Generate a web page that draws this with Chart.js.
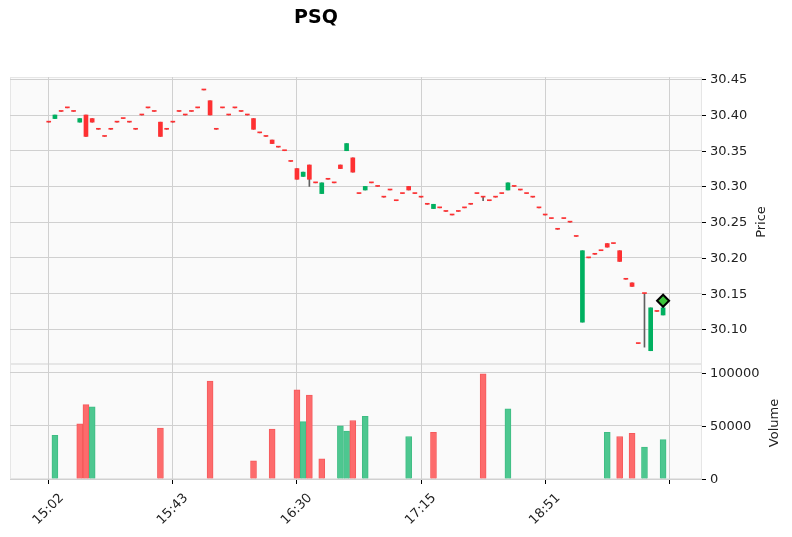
<!DOCTYPE html>
<html>
<head>
<meta charset="utf-8">
<script src="https://cdn.jsdelivr.net/npm/chart.js@4"></script>
<style>
  html, body { margin: 0; padding: 0; background: #fff; }
</style>
</head>
<body>
<canvas id="chart" width="792" height="537"></canvas>
<script>
// tick positions (bar index) and their time labels
const tickIndex = [0, 20, 40, 60, 80, 100];
const tickLabels = ["15:02", "15:43", "16:30", "17:15", "18:51", ""];
const priceTicks = [30.10, 30.15, 30.20, 30.25, 30.30, 30.35, 30.40, 30.45];
const volumeTicks = [0, 50000, 100000];

// OHLC per bar
const opens = [
  30.39, 30.395, 30.405, 30.41, 30.405, 30.39, 30.40, 30.395, 30.38, 30.37,
  30.38, 30.39, 30.395, 30.39, 30.38, 30.40, 30.41, 30.405, 30.39, 30.38,
  30.39, 30.405, 30.40, 30.405, 30.41, 30.435, 30.42, 30.38, 30.41, 30.40,
  30.41, 30.405, 30.40, 30.395, 30.375, 30.37, 30.365, 30.355, 30.35, 30.335,
  30.325, 30.314, 30.33, 30.305, 30.29, 30.31, 30.305, 30.33, 30.35, 30.34,
  30.29, 30.295, 30.305, 30.30, 30.285, 30.295, 30.28, 30.29, 30.30, 30.29,
  30.285, 30.275, 30.269, 30.27, 30.265, 30.26, 30.265, 30.27, 30.275, 30.29,
  30.285, 30.28, 30.285, 30.29, 30.295, 30.30, 30.295, 30.29, 30.285, 30.27,
  30.26, 30.255, 30.24, 30.255, 30.25, 30.23, 30.11, 30.20, 30.205, 30.21,
  30.22, 30.22, 30.21, 30.17, 30.165, 30.08, 30.15, 30.07, 30.125, 30.12
];
const highs = [
  30.39, 30.40, 30.405, 30.41, 30.405, 30.395, 30.40, 30.395, 30.38, 30.37,
  30.38, 30.39, 30.395, 30.39, 30.38, 30.40, 30.41, 30.405, 30.39, 30.38,
  30.39, 30.405, 30.40, 30.405, 30.41, 30.435, 30.42, 30.38, 30.41, 30.40,
  30.41, 30.405, 30.40, 30.395, 30.375, 30.37, 30.365, 30.355, 30.35, 30.335,
  30.325, 30.32, 30.33, 30.305, 30.305, 30.31, 30.305, 30.33, 30.36, 30.34,
  30.29, 30.30, 30.305, 30.30, 30.285, 30.295, 30.28, 30.29, 30.30, 30.29,
  30.285, 30.275, 30.275, 30.27, 30.265, 30.26, 30.265, 30.27, 30.275, 30.29,
  30.285, 30.28, 30.285, 30.29, 30.305, 30.30, 30.295, 30.29, 30.285, 30.27,
  30.26, 30.255, 30.24, 30.255, 30.25, 30.23, 30.21, 30.20, 30.205, 30.21,
  30.22, 30.22, 30.21, 30.17, 30.165, 30.08, 30.15, 30.13, 30.125, 30.13
];
const lows = [
  30.39, 30.395, 30.405, 30.41, 30.405, 30.39, 30.37, 30.39, 30.38, 30.37,
  30.38, 30.39, 30.395, 30.39, 30.38, 30.40, 30.41, 30.405, 30.37, 30.38,
  30.39, 30.405, 30.40, 30.405, 30.41, 30.435, 30.40, 30.38, 30.41, 30.40,
  30.41, 30.405, 30.40, 30.38, 30.375, 30.37, 30.36, 30.355, 30.35, 30.335,
  30.31, 30.314, 30.30, 30.305, 30.29, 30.31, 30.305, 30.325, 30.35, 30.32,
  30.29, 30.295, 30.305, 30.30, 30.285, 30.295, 30.28, 30.29, 30.295, 30.29,
  30.285, 30.275, 30.269, 30.27, 30.265, 30.26, 30.265, 30.27, 30.275, 30.29,
  30.28, 30.28, 30.285, 30.29, 30.295, 30.30, 30.295, 30.29, 30.285, 30.27,
  30.26, 30.255, 30.24, 30.255, 30.25, 30.23, 30.11, 30.20, 30.205, 30.21,
  30.215, 30.22, 30.195, 30.17, 30.16, 30.08, 30.075, 30.07, 30.125, 30.12
];
const closes = [
  30.39, 30.40, 30.405, 30.41, 30.405, 30.395, 30.37, 30.39, 30.38, 30.37,
  30.38, 30.39, 30.395, 30.39, 30.38, 30.40, 30.41, 30.405, 30.37, 30.38,
  30.39, 30.405, 30.40, 30.405, 30.41, 30.435, 30.40, 30.38, 30.41, 30.40,
  30.41, 30.405, 30.40, 30.38, 30.375, 30.37, 30.36, 30.355, 30.35, 30.335,
  30.31, 30.32, 30.31, 30.305, 30.305, 30.31, 30.305, 30.325, 30.36, 30.32,
  30.29, 30.30, 30.305, 30.30, 30.285, 30.295, 30.28, 30.29, 30.295, 30.29,
  30.285, 30.275, 30.275, 30.27, 30.265, 30.26, 30.265, 30.27, 30.275, 30.29,
  30.285, 30.28, 30.285, 30.29, 30.305, 30.30, 30.295, 30.29, 30.285, 30.27,
  30.26, 30.255, 30.24, 30.255, 30.25, 30.23, 30.21, 30.20, 30.205, 30.21,
  30.215, 30.22, 30.195, 30.17, 30.16, 30.08, 30.15, 30.13, 30.125, 30.13
];
const volumes = [
  0, 41000, 0, 0, 0, 52000, 70000, 68000, 0, 0,
  0, 0, 0, 0, 0, 0, 0, 0, 48000, 0,
  0, 0, 0, 0, 0, 0, 92000, 0, 0, 0,
  0, 0, 0, 17000, 0, 0, 47000, 0, 0, 0,
  84000, 54000, 79000, 0, 19000, 0, 0, 50000, 45000, 55000,
  0, 59000, 0, 0, 0, 0, 0, 0, 40000, 0,
  0, 0, 44000, 0, 0, 0, 0, 0, 0, 0,
  99000, 0, 0, 0, 66000, 0, 0, 0, 0, 0,
  0, 0, 0, 0, 0, 0, 0, 0, 0, 0,
  44000, 0, 40000, 0, 43000, 0, 30000, 0, 0, 37000
];
// marker on the last bar
const markerIndex = 99;
const markerPrice = 30.14;

const UP = "#00b060", DOWN = "#fe3032", WICK = "#606060";
const VOL_UP = "#4dc790", VOL_DOWN = "#fd6b6c";
const GRID = "#d0d0d0";
const FONT = "'DejaVu Sans', sans-serif";

const bodies = opens.map((o, i) => ({ x: i, y: [o, closes[i]] }));
const wicks = lows.map((l, i) => ({ x: i, y: [l, highs[i]] }));
const bodyColors = opens.map((o, i) => closes[i] > o ? UP : DOWN);
const vols = volumes.map((v, i) => ({ x: i, y: v > 0 ? v : null }));
const volColors = closes.map((c, i) => c > (i > 0 ? closes[i - 1] : opens[0]) ? VOL_UP : VOL_DOWN);
const volBorders = volColors.map(c => c === VOL_UP ? "#3fbd84" : "#f55a5c");

// background, panel frames, title, axis labels
const decor = {
  id: "decor",
  beforeDraw(chart) {
    const { ctx, chartArea } = chart;
    const yp = chart.scales.yPrice, yv = chart.scales.yVol;
    const w = chartArea.right - chartArea.left;
    ctx.save();
    ctx.fillStyle = "#fafafa";
    ctx.fillRect(chartArea.left, yp.top, w, yp.bottom - yp.top);
    ctx.fillRect(chartArea.left, yv.top, w, yv.bottom - yv.top);
    ctx.strokeStyle = "#e6e6e6";
    ctx.lineWidth = 1;
    ctx.strokeRect(chartArea.left + 0.5, yp.top + 0.5, w - 1, yp.bottom - yp.top - 1);
    ctx.strokeRect(chartArea.left + 0.5, yv.top + 0.5, w - 1, yv.bottom - yv.top - 1);
    ctx.restore();
  },
  afterDraw(chart) {
    const { ctx, chartArea } = chart;
    const xs = chart.scales.x, yp = chart.scales.yPrice, yv = chart.scales.yVol;
    const r = chartArea.right;
    ctx.save();
    ctx.fillStyle = "#000";
    ctx.font = "bold 19px " + FONT;
    ctx.textAlign = "center";
    ctx.textBaseline = "middle";
    ctx.fillText("PSQ", 316, 18);

    // y tick marks and labels
    ctx.strokeStyle = "#000";
    ctx.lineWidth = 1;
    ctx.fillStyle = "#222";
    ctx.font = "13px " + FONT;
    ctx.textAlign = "left";
    const yLabels = [[yp, priceTicks, v => v.toFixed(2)], [yv, volumeTicks, v => String(v)]];
    yLabels.forEach(([sc, ticks, fmt]) => {
      ticks.forEach(v => {
        const py = Math.round(sc.getPixelForValue(v)) + 0.5;
        ctx.beginPath();
        ctx.moveTo(r, py);
        ctx.lineTo(r + 4, py);
        ctx.stroke();
        ctx.fillText(fmt(v), r + 8, py);
      });
    });

    ctx.textAlign = "center";
    [["Price", 762, 222], ["Volume", 775, 423]].forEach(([t, x, y]) => {
      ctx.save();
      ctx.translate(x, y);
      ctx.rotate(-Math.PI / 2);
      ctx.fillText(t, 0, 0);
      ctx.restore();
    });

    // x tick labels, rotated
    ctx.textAlign = "right";
    tickIndex.forEach((v, k) => {
      if (!tickLabels[k]) return;
      const px = xs.getPixelForValue(v);
      ctx.save();
      ctx.translate(px + 13, 496);
      ctx.rotate(-Math.PI / 4);
      ctx.fillText(tickLabels[k], 0, 0);
      ctx.restore();
    });
    ctx.restore();
  }
};

new Chart(document.getElementById("chart"), {
  type: "bar",
  data: {
    datasets: [
      {
        type: "scatter",
        data: [{ x: markerIndex, y: markerPrice }],
        yAxisID: "yPrice",
        pointStyle: "rectRot",
        pointRadius: 6,
        backgroundColor: "#3cc43c",
        borderColor: "#000",
        borderWidth: 2,
        order: 0
      },
      {
        data: bodies,
        yAxisID: "yPrice",
        backgroundColor: bodyColors,
        borderWidth: 0,
        barThickness: 4,
        minBarLength: 1,
        grouped: false,
        order: 1
      },
      {
        data: wicks,
        yAxisID: "yPrice",
        backgroundColor: WICK,
        borderWidth: 0,
        barThickness: 1,
        grouped: false,
        order: 2
      },
      {
        data: vols,
        yAxisID: "yVol",
        backgroundColor: volColors,
        borderColor: volBorders,
        borderWidth: 1,
        barThickness: 6,
        grouped: false,
        order: 3
      }
    ]
  },
  options: {
    responsive: false,
    animation: false,
    layout: { padding: { left: 10, top: 77, right: 0, bottom: 0 } },
    plugins: { legend: { display: false }, tooltip: { enabled: false }, title: { display: false } },
    scales: {
      x: {
        type: "linear",
        min: -6.24,
        max: 105.27,
        offset: false,
        border: { display: false },
        grid: { color: GRID, offset: false, tickColor: "#000", tickLength: 5, drawTicks: true },
        ticks: { display: false },
        afterBuildTicks(scale) { scale.ticks = tickIndex.map(v => ({ value: v })); },
        afterFit(scale) { scale.height = 58; }
      },
      yPrice: {
        type: "linear",
        position: "right",
        stack: "panels",
        stackWeight: 287,
        min: 30.0514,
        max: 30.4532,
        border: { display: false },
        grid: { color: GRID, drawTicks: false },
        ticks: { display: false },
        afterBuildTicks(scale) { scale.ticks = priceTicks.map(v => ({ value: v })); },
        afterFit(scale) { scale.width = 90; }
      },
      yVol: {
        type: "linear",
        position: "right",
        stack: "panels",
        stackWeight: 115,
        min: 0,
        max: 108185,
        border: { display: false },
        grid: { color: GRID, drawTicks: false },
        ticks: { display: false },
        afterBuildTicks(scale) { scale.ticks = volumeTicks.map(v => ({ value: v })); },
        afterFit(scale) { scale.width = 90; }
      }
    }
  },
  plugins: [decor]
});
</script>
</body>
</html>
